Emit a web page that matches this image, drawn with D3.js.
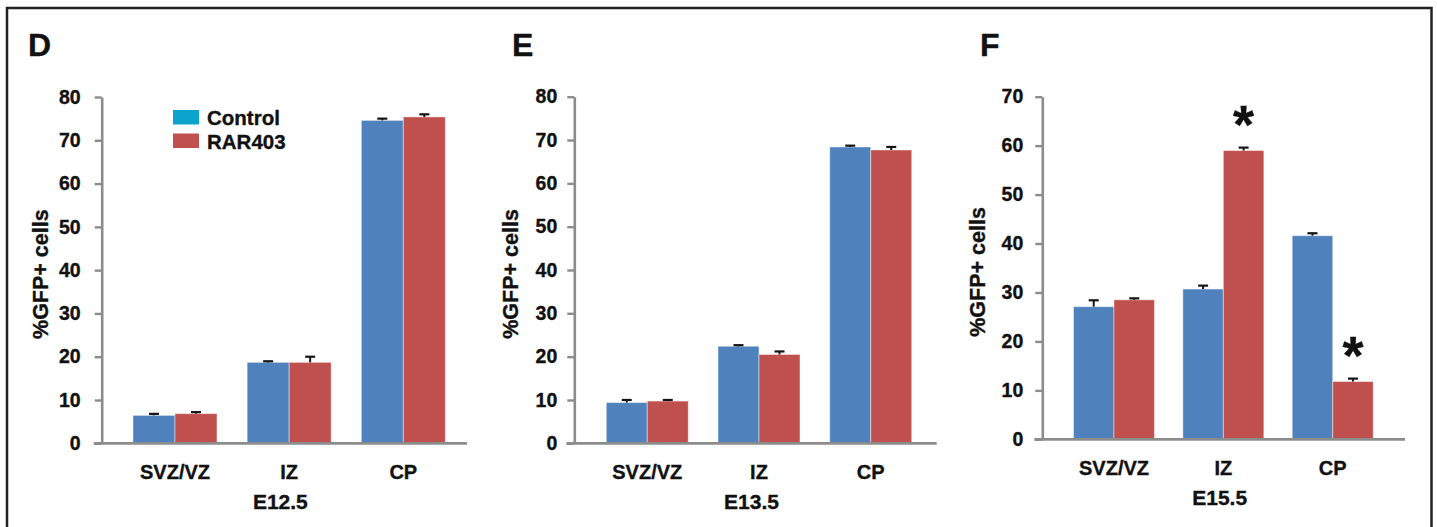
<!DOCTYPE html>
<html>
<head>
<meta charset="utf-8">
<script src="https://cdn.jsdelivr.net/npm/d3@7/dist/d3.min.js"></script>
<style>
  html, body { margin: 0; padding: 0; background: #fff; }
  svg { display: block; }
  text { font-family: "Liberation Sans", Arial, Helvetica, sans-serif; font-weight: bold; fill: #111; stroke: #111; stroke-width: 0.35px; }
</style>
</head>
<body>
<svg id="chart" width="1437" height="527"></svg>
<script>
// ---------- DATA ----------
const categories = ["SVZ/VZ", "IZ", "CP"];
const seriesNames = ["Control", "RAR403"];
const stages = ["E12.5", "E13.5", "E15.5"];
const panelLetters = ["D", "E", "F"];

const e125Control    = [6.45, 18.7, 74.6];
const e125ControlErr = [0.35, 0.25, 0.4];
const e125RAR403     = [6.85, 18.7, 75.4];
const e125RAR403Err  = [0.35, 1.3, 0.6];

const e135Control    = [9.4, 22.4, 68.4];
const e135ControlErr = [0.6, 0.25, 0.3];
const e135RAR403     = [9.75, 20.5, 67.7];
const e135RAR403Err  = [0.25, 0.7, 0.7];

const e155Control    = [27.1, 30.7, 41.6];
const e155ControlErr = [1.3, 0.7, 0.5];
const e155RAR403     = [28.5, 59.0, 11.8];
const e155RAR403Err  = [0.3, 0.6, 0.6];

const yTicks80 = [0, 10, 20, 30, 40, 50, 60, 70, 80];
const yTicks70 = [0, 10, 20, 30, 40, 50, 60, 70];

const e155Significant = ["IZ", "CP"];   // RAR403 bars marked with *

const yAxisTitle = "%GFP+ cells";

// ---------- STYLE / LAYOUT ----------
const colors = { Control: "#4F81BD", RAR403: "#C0504D" };
const legendColors = { Control: "#0BA2CB", RAR403: "#C0504D" };
const axisColor = "#8c8c8c";

const panels = [
  { letter: panelLetters[0], stage: stages[0], ticks: yTicks80,
    control: e125Control, controlErr: e125ControlErr, rar: e125RAR403, rarErr: e125RAR403Err, sig: [],
    ax: 101.7, top: 97, zero: 443.3, bandStart: 16.2, bandEnd: 358.7, axisEnd: 467, barW: 42,
    letterX: 28, titleX: 40, tickPad: 14, legend: true },
  { letter: panelLetters[1], stage: stages[1], ticks: yTicks80,
    control: e135Control, controlErr: e135ControlErr, rar: e135RAR403, rarErr: e135RAR403Err, sig: [],
    ax: 574.3, top: 96.7, zero: 443.3, bandStart: 17.1, bandEnd: 352.3, axisEnd: 936.7, barW: 41,
    letterX: 512, titleX: 510, tickPad: 10, legend: false },
  { letter: panelLetters[2], stage: stages[2], ticks: yTicks70,
    control: e155Control, controlErr: e155ControlErr, rar: e155RAR403, rarErr: e155RAR403Err, sig: e155Significant,
    ax: 1042.3, top: 96.7, zero: 439.3, bandStart: 17.0, bandEnd: 345.1, axisEnd: 1405, barW: 40.5,
    letterX: 980, titleX: 977, tickPad: 12, legend: false }
];

const svg = d3.select("#chart");

// outer frame
svg.append("rect")
  .attr("x", 7).attr("y", 8)
  .attr("width", 1424.5).attr("height", 600)
  .attr("fill", "none").attr("stroke", "#232323").attr("stroke-width", 2.5);

panels.forEach(p => {
  const g = svg.append("g");
  const yMax = d3.max(p.ticks);
  const y = d3.scaleLinear().domain([0, yMax]).range([p.zero, p.top]);
  const x = d3.scaleBand().domain(categories).range([p.ax + p.bandStart, p.ax + p.bandEnd]);
  const xs = d3.scaleBand().domain(seriesNames).range([0, 2 * p.barW]);

  const rows = [];
  categories.forEach((c, i) => {
    rows.push({ cat: c, s: "Control", v: p.control[i], e: p.controlErr[i] });
    rows.push({ cat: c, s: "RAR403", v: p.rar[i], e: p.rarErr[i] });
  });
  const bx = d => x(d.cat) + x.bandwidth() / 2 - p.barW + xs(d.s);

  // bars
  g.selectAll("rect.bar").data(rows).enter().append("rect")
    .attr("class", "bar")
    .attr("x", bx)
    .attr("y", d => y(d.v))
    .attr("width", xs.bandwidth())
    .attr("height", d => y(0) - y(d.v))
    .attr("fill", d => colors[d.s])
    .attr("stroke", "rgba(255,255,255,0.45)")
    .attr("stroke-width", 1);

  // error bars (upper)
  const eb = g.selectAll("g.err").data(rows).enter().append("g").attr("class", "err");
  eb.append("line")
    .attr("x1", d => bx(d) + xs.bandwidth() / 2).attr("x2", d => bx(d) + xs.bandwidth() / 2)
    .attr("y1", d => y(d.v)).attr("y2", d => y(d.v + d.e))
    .attr("stroke", "#151515").attr("stroke-width", 2);
  eb.append("line")
    .attr("x1", d => bx(d) + xs.bandwidth() / 2 - 5).attr("x2", d => bx(d) + xs.bandwidth() / 2 + 5)
    .attr("y1", d => y(d.v + d.e)).attr("y2", d => y(d.v + d.e))
    .attr("stroke", "#151515").attr("stroke-width", 2.2);

  // significance stars
  const sigRows = rows.filter(d => d.s === "RAR403" && p.sig.includes(d.cat));
  g.selectAll("text.star").data(sigRows).enter().append("text")
    .attr("class", "star")
    .attr("x", d => bx(d) + xs.bandwidth() / 2)
    .attr("y", d => y(d.v + d.e) - 2)
    .attr("text-anchor", "middle")
    .attr("font-size", 54)
    .attr("dy", "0.62em")
    .attr("transform", `translate(0,${-36})`)
    .text("*");

  // y axis
  const yAxis = d3.axisLeft(y).tickValues(p.ticks).tickSize(7).tickSizeOuter(0).tickPadding(p.tickPad);
  const ya = g.append("g").attr("transform", `translate(${p.ax},0)`).call(yAxis);
  ya.select(".domain").attr("stroke", axisColor).attr("stroke-width", 2.6);
  ya.selectAll(".tick line").attr("stroke", axisColor).attr("stroke-width", 2.4);
  ya.selectAll(".tick text").attr("font-size", 19.5).attr("fill", "#111")
    .attr("font-family", "'Liberation Sans', Arial, sans-serif").attr("font-weight", "bold");

  // x axis labels
  const xAxis = d3.axisBottom(x).tickSize(0).tickPadding(22);
  const xa = g.append("g").attr("transform", `translate(0,${p.zero})`).call(xAxis);
  xa.select(".domain").remove();
  xa.selectAll(".tick text").attr("font-size", 20).attr("fill", "#111")
    .attr("font-family", "'Liberation Sans', Arial, sans-serif").attr("font-weight", "bold");

  // x axis line
  g.append("line")
    .attr("x1", p.ax - 8).attr("x2", p.axisEnd)
    .attr("y1", p.zero).attr("y2", p.zero)
    .attr("stroke", axisColor).attr("stroke-width", 2.8);

  // x axis title (stage)
  g.append("text")
    .attr("x", (p.ax - 8 + p.axisEnd) / 2)
    .attr("y", p.zero + 66)
    .attr("text-anchor", "middle")
    .attr("font-size", 21)
    .text(p.stage);

  // y axis title
  const yMid = (p.top + p.zero) / 2 + 4;
  g.append("text")
    .attr("transform", `translate(${p.titleX + 7.5},${yMid}) rotate(-90)`)
    .attr("text-anchor", "middle")
    .attr("font-size", 21.5)
    .text(yAxisTitle);

  // panel letter
  g.append("text")
    .attr("x", p.letterX).attr("y", 55.5)
    .attr("font-size", 32)
    .text(p.letter);

  // legend
  if (p.legend) {
    const lg = g.append("g").attr("transform", "translate(173,110)");
    seriesNames.forEach((s, i) => {
      lg.append("rect").attr("x", 0).attr("y", i * 23.5).attr("width", 26).attr("height", 14.5)
        .attr("fill", legendColors[s]);
      lg.append("text").attr("x", 34).attr("y", i * 23.5 + 15).attr("font-size", 20.5).text(s);
    });
  }
});
</script>
</body>
</html>
